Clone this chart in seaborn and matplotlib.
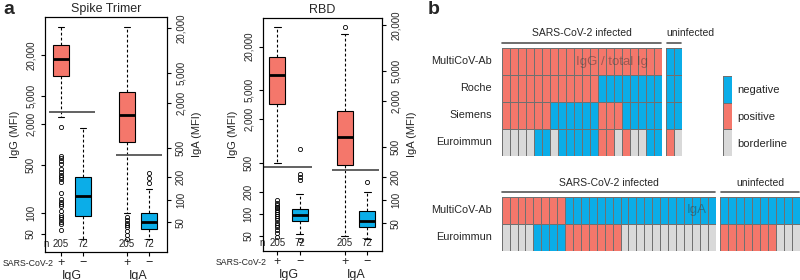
import numpy as np
import pandas as pd
import matplotlib
matplotlib.use("Agg")
import matplotlib.pyplot as plt
import seaborn as sns
from matplotlib.colors import ListedColormap
from matplotlib.ticker import NullLocator
import matplotlib.transforms as mtrans

#------------------------------------------------------------------
# data
#------------------------------------------------------------------
RED = "#F4776B"
BLUE = "#0BADE8"
GREY = "#D9D9D9"

# panel a - box statistics (MFI), order: IgG+, IgG-, IgA+, IgA-
n_counts = [205, 72, 205, 72]

spike_q1 = [9900, 91, 598, 41]
spike_med = [17500, 179, 1364, 51]
spike_q3 = [27900, 340, 2750, 67]
spike_lo = [2510, 42, 67, 30]
spike_hi = [51000, 1740, 20600, 138]
spike_fl_igg_pos = [1800, 690, 630, 580, 520, 440, 395, 360, 335, 315, 285,
                    195, 160, 146, 137, 128, 109, 95, 88, 82, 76, 70, 57]
spike_fl_igg_neg = []
spike_fl_iga_pos = [58, 53, 49, 46, 43, 38, 34, 30]
spike_fl_iga_neg = [228, 195, 167]
spike_cutoff = [2970, 401]

rbd_q1 = [3220, 79, 291, 44]
rbd_med = [8220, 96, 684, 54]
rbd_q3 = [14300, 116, 1486, 73]
rbd_lo = [495, 52, 34, 31]
rbd_hi = [37700, 187, 15100, 130]
rbd_fl_igg_pos = [155, 142, 132, 125, 119, 113, 107, 99, 93, 87, 82, 75,
                  70, 65, 60, 54, 48]
rbd_fl_igg_neg = [773, 349, 318, 292, 44]
rbd_fl_iga_pos = [19000]
rbd_fl_iga_neg = [176]
rbd_cutoff = [445, 250]

ticks_left_spike = [50, 100, 500, 2000, 5000, 20000]
ticks_left_rbd = [50, 100, 200, 500, 2000, 5000, 20000]
ticks_right = [50, 100, 200, 500, 2000, 5000, 20000]

# panel b - test results, N = negative, P = positive, B = borderline
tests_igg = ["MultiCoV-Ab", "Roche", "Siemens", "Euroimmun"]
igg_infected = ["PPPPPPPPPPPPPPPPPPPP",
                "PPPPPPPPPPPPNNNNNNNN",
                "PPPPPPNNNNNNPPPNNNNN",
                "BBBBNNBNNNNNPPBPBBNN"]
igg_uninfected = ["NN", "NN", "NN", "PB"]

tests_iga = ["MultiCoV-Ab", "Euroimmun"]
iga_infected = ["PPPPPPPPNNNNNNNNNNNNNNNNNNN",
                "BBBBNNNNPPPPPPPBBBBBBBBBBBB"]
iga_uninfected = ["NNNNNNNNNN",
                  "PPPPPPPBBB"]

legend_labels = ["negative", "positive", "borderline"]

code = {"N": 0, "P": 1, "B": 2}
cmap = ListedColormap([BLUE, RED, GREY])

sns.set_theme(style="ticks")
plt.rcParams["font.family"] = ["Liberation Sans", "DejaVu Sans"]
plt.rcParams["axes.linewidth"] = 0.8
plt.rcParams["axes.edgecolor"] = "black"

fig = plt.figure(figsize=(8, 2.8), dpi=100)


def make_stats(q1, med, q3, lo, hi, fliers):
    return [dict(q1=q1[i], med=med[i], q3=q3[i], whislo=lo[i], whishi=hi[i],
                 fliers=fliers[i]) for i in range(len(q1))]


def box_panel(rect, title, stats, cutoff, cut_spans, ylim_g, ylim_a,
              ticks_g, xlim, sars_dx):
    ax = fig.add_axes(rect)
    ax2 = ax.twinx()
    style = dict(widths=0.72, patch_artist=True, manage_ticks=False,
                 capwidths=0.3,
                 boxprops=dict(edgecolor="black", linewidth=0.8),
                 medianprops=dict(color="black", linewidth=2),
                 whiskerprops=dict(color="black", linewidth=0.8,
                                   linestyle=(0, (2.5, 2))),
                 capprops=dict(color="black", linewidth=0.8),
                 flierprops=dict(marker="o", markersize=3,
                                 markerfacecolor="none",
                                 markeredgecolor="black",
                                 markeredgewidth=0.6))
    colors = [RED, BLUE]
    for a, st, pos, lim in [(ax, stats[:2], [1, 2], ylim_g),
                            (ax2, stats[2:], [4, 5], ylim_a)]:
        a.set_yscale("log")
        res = a.bxp(st, positions=pos, **style)
        for b, c in zip(res["boxes"], colors):
            b.set_facecolor(c)
        a.set_ylim(lim)
        a.yaxis.set_minor_locator(NullLocator())
    ax.hlines(cutoff[0], *cut_spans[0], color="#555555", lw=1.3)
    ax2.hlines(cutoff[1], *cut_spans[1], color="#555555", lw=1.3)

    ax.set_yticks(ticks_g)
    ax.set_yticklabels([f"{t:,}" for t in ticks_g], rotation=90, va="center")
    ax2.set_yticks(ticks_right)
    ax2.set_yticklabels([f"{t:,}" for t in ticks_right], rotation=90,
                        va="center")
    for a in (ax, ax2):
        a.tick_params(axis="y", length=3, width=0.8, pad=3.5, labelsize=7,
                      color="black")
    ax.set_ylabel("IgG (MFI)", fontsize=8, labelpad=4)
    ax2.set_ylabel("IgA (MFI)", fontsize=8, labelpad=4)

    ax.set_xlim(xlim)
    ax.set_xticks([1, 2, 4, 5])
    ax.set_xticklabels(["+", "\u2212", "+", "\u2212"], fontsize=9)
    ax.tick_params(axis="x", length=3, width=0.8, pad=0.5, color="black")
    ax.set_title(title, fontsize=9, pad=4)

    tr = mtrans.blended_transform_factory(ax.transData, ax.transAxes)
    for x, n in zip([1, 2, 4, 5], n_counts):
        ax.text(x, 0.012, str(n), transform=tr, ha="center", va="bottom",
                fontsize=7)
    ax.text(0.45, 0.012, "n", transform=tr, ha="right", va="bottom",
            fontsize=7)
    ax.annotate("SARS-CoV-2", xy=(0, 0), xycoords="axes fraction",
                xytext=(sars_dx, -8.3), textcoords="offset points",
                ha="right", va="center", fontsize=6.3)
    for x, lab in [(1.5, "IgG"), (4.5, "IgA")]:
        ax.annotate(lab, xy=(x, 0), xycoords=tr, xytext=(0, -17),
                    textcoords="offset points", ha="center", va="center",
                    fontsize=9)


spike_stats = make_stats(spike_q1, spike_med, spike_q3, spike_lo, spike_hi,
                         [spike_fl_igg_pos, spike_fl_igg_neg,
                          spike_fl_iga_pos, spike_fl_iga_neg])
rbd_stats = make_stats(rbd_q1, rbd_med, rbd_q3, rbd_lo, rbd_hi,
                       [rbd_fl_igg_pos, rbd_fl_igg_neg,
                        rbd_fl_iga_pos, rbd_fl_iga_neg])

box_panel([0.05625, 0.1, 0.1525, 0.839], "Spike Trimer", spike_stats,
          spike_cutoff, [(0.45, 2.55), (3.5, 5.59)],
          (27.4, 71000), (19.9, 28100), ticks_left_spike, (0.27, 5.82), 6)
box_panel([0.3284, 0.1036, 0.149, 0.831], "RBD", rbd_stats,
          rbd_cutoff, [(0.36, 2.54), (3.43, 5.5)],
          (30.7, 49200), (21.6, 24500), ticks_left_rbd, (0.36, 5.65), 3)


#------------------------------------------------------------------
# panel b - heatmaps of test results
#------------------------------------------------------------------
def grid(rect, rows, names, show_names):
    ax = fig.add_axes(rect)
    mat = pd.DataFrame([[code[c] for c in r] for r in rows], index=names)
    sns.heatmap(mat, ax=ax, cmap=cmap, vmin=-0.5, vmax=2.5, cbar=False,
                linewidths=0.6, linecolor="#707070", xticklabels=False,
                yticklabels=names if show_names else False)
    ax.tick_params(axis="y", length=0, pad=7, labelsize=7.8, rotation=0)
    ncol = mat.shape[1]
    ax.plot([0.1, ncol - 0.1], [-0.19, -0.19], color="#555555", lw=1.2,
            clip_on=False)
    return ax, ncol


ax, nc = grid([0.6271, 0.4429, 0.2, 0.3857], igg_infected, tests_igg, True)
ax.text(nc / 2, -0.55, "SARS-CoV-2 infected", ha="center", va="center",
        fontsize=7.5)
ax.text(18.3, 0.52, "IgG / total Ig", ha="right", va="center", fontsize=9.5,
        color="#333333", alpha=0.45)
ax, nc = grid([0.8325, 0.4429, 0.02, 0.3857], igg_uninfected, tests_igg,
              False)
ax.text(0, -0.55, "uninfected", ha="left", va="center", fontsize=7.5)

ax, nc = grid([0.6271, 0.1036, 0.2675, 0.1929], iga_infected, tests_iga,
              True)
ax.text(nc / 2, -0.52, "SARS-CoV-2 infected", ha="center", va="center",
        fontsize=7.5)
ax.text(25.85, 0.5, "IgA", ha="right", va="center", fontsize=9.5,
        color="#333333", alpha=0.45)
ax, nc = grid([0.9, 0.1036, 0.1, 0.1929], iga_uninfected, tests_iga, False)
ax.text(nc / 2, -0.52, "uninfected", ha="center", va="center", fontsize=7.5)

# legend strip
ax_leg = fig.add_axes([0.90375, 0.4429, 0.01125, 0.2857])
leg = pd.DataFrame([[0], [1], [2]], index=legend_labels)
sns.heatmap(leg, ax=ax_leg, cmap=cmap, vmin=-0.5, vmax=2.5, cbar=False,
            linewidths=0.6, linecolor="#707070", xticklabels=False,
            yticklabels=legend_labels)
ax_leg.yaxis.tick_right()
ax_leg.tick_params(axis="y", length=0, pad=4, labelsize=8, rotation=0)

fig.text(0.004, 0.995, "a", fontsize=14, fontweight="bold", va="top")
fig.text(0.535, 0.995, "b", fontsize=14, fontweight="bold", va="top")

fig.savefig("out.png", dpi=100)
